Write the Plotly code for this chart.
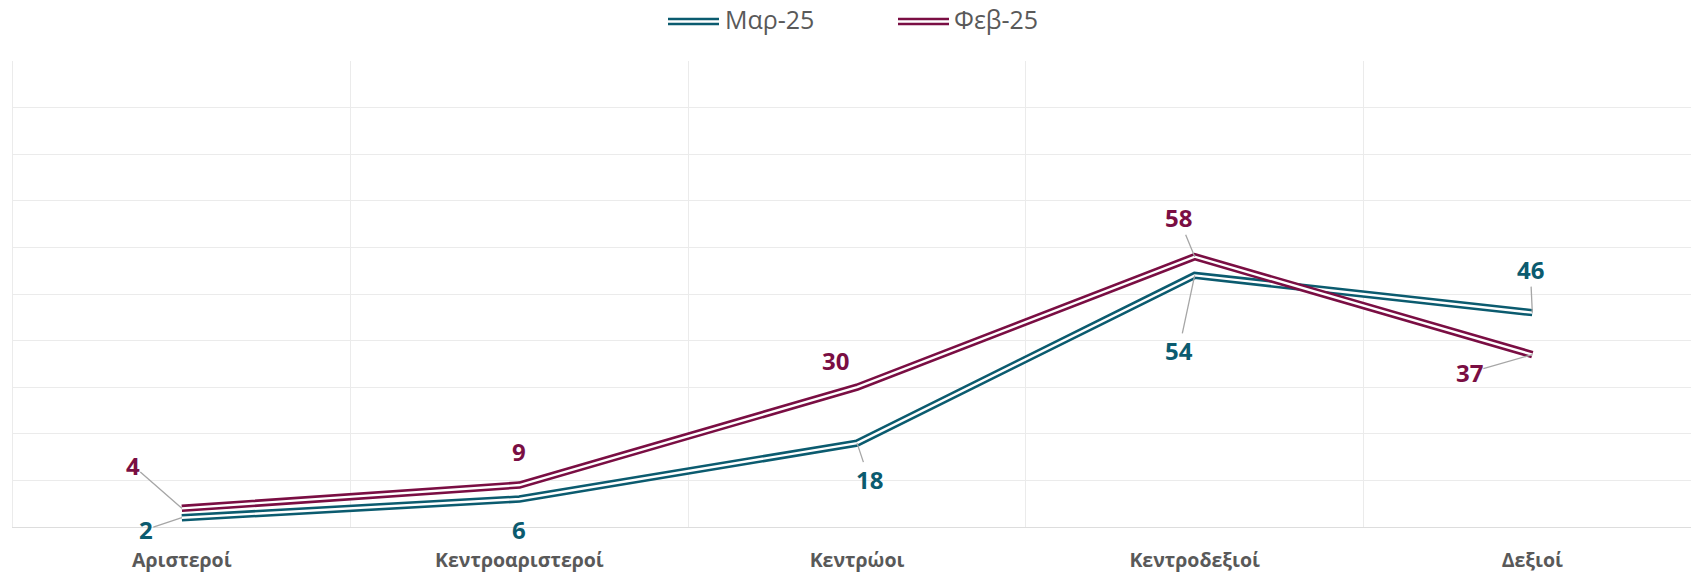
import plotly.graph_objects as go

categories = ["Αριστεροί", "Κεντροαριστεροί", "Κεντρώοι", "Κεντροδεξιοί", "Δεξιοί"]
mar25 = [2, 6, 18, 54, 46]
feb25 = [4, 9, 30, 58, 37]
series_names = ["Μαρ-25", "Φεβ-25"]

TEAL = "#0B5B6F"
MAROON = "#7A0E43"
GREY_TXT = "#595959"
GRID = "#EBEBEB"
LEADER = "#A6A6A6"

W, H = 1691, 577
ML, MR, MT, MB = 13, 0, 61, 50
PW, PH = W - ML - MR, H - MT - MB

def px2paper(px, py):
    return (px - ML) / PW, (H - MB - py) / PH

fig = go.Figure()

for vals, col, name in [(mar25, TEAL, series_names[0]), (feb25, MAROON, series_names[1])]:
    fig.add_trace(go.Scatter(x=categories, y=vals, mode="lines", name=name,
                             line=dict(color=col, width=7.5), showlegend=False,
                             hoverinfo="skip"))
    fig.add_trace(go.Scatter(x=categories, y=vals, mode="lines", name=name,
                             line=dict(color="white", width=2.4), showlegend=False,
                             hoverinfo="skip"))

# data label offsets (pixels): (dx, dy_down, leader)
feb_off = [(-49, -43, True), (0, -34, False), (-22, -27, False), (-16, -39, True), (-63, 18, True)]
mar_off = [(-36, 12, True), (0, 30, False), (12, 36, True), (-16, 75, True), (-2, -43, True)]

annotations = []
for vals, offs, col in [(feb25, feb_off, MAROON), (mar25, mar_off, TEAL)]:
    for c, v, (dx, dy, lead) in zip(categories, vals, offs):
        base = dict(x=c, y=v, xref="x", yref="y", text=f"<b>{v}</b>",
                    font=dict(family="Open Sans", size=24, color=col), borderpad=0)
        if lead:
            base.update(showarrow=True, ax=dx, ay=dy, arrowhead=0, arrowwidth=1.3,
                        arrowcolor=LEADER, standoff=0, startstandoff=0)
        else:
            base.update(showarrow=False, xshift=dx, yshift=-dy)
        annotations.append(base)

# manual legend with double-line symbols
shapes = []
legend_items = [(series_names[0], TEAL, 668, 719, 723), (series_names[1], MAROON, 898, 949, 952)]
for name, col, x0, x1, tx in legend_items:
    px0, py = px2paper(x0, 21.5)
    px1, _ = px2paper(x1, 21.5)
    shapes.append(dict(type="line", xref="paper", yref="paper", x0=px0, x1=px1, y0=py, y1=py,
                       line=dict(color=col, width=7.5)))
    shapes.append(dict(type="line", xref="paper", yref="paper", x0=px0, x1=px1, y0=py, y1=py,
                       line=dict(color="white", width=2.4)))
    tpx, tpy = px2paper(tx, 19)
    annotations.append(dict(x=tpx, y=tpy, xref="paper", yref="paper", text=name,
                            showarrow=False, xanchor="left", yanchor="middle",
                            font=dict(family="Open Sans", size=25, color=GREY_TXT)))

fig.update_layout(
    width=W, height=H,
    margin=dict(l=ML, r=MR, t=MT, b=MB),
    paper_bgcolor="white", plot_bgcolor="white",
    showlegend=False,
    annotations=annotations,
    shapes=shapes,
    xaxis=dict(type="category", categoryorder="array", categoryarray=categories,
               range=[-0.5, 4.47], tickson="boundaries", showgrid=True,
               gridcolor=GRID, gridwidth=1, ticks="", showline=True,
               linecolor="#DDDDDD", linewidth=1, zeroline=False,
               tickfont=dict(family="Open Sans", size=19.5, color=GREY_TXT, weight="bold"),
               ticklabelstandoff=16),
    yaxis=dict(range=[0, 100], dtick=10, showgrid=True, gridcolor=GRID, gridwidth=1,
               showticklabels=False, ticks="", zeroline=False, showline=True,
               linecolor=GRID, linewidth=1),
)

fig.write_html("out.html", config={"displayModeBar": False},
               post_script="document.body.style.margin='0';document.body.style.overflow='hidden';")
